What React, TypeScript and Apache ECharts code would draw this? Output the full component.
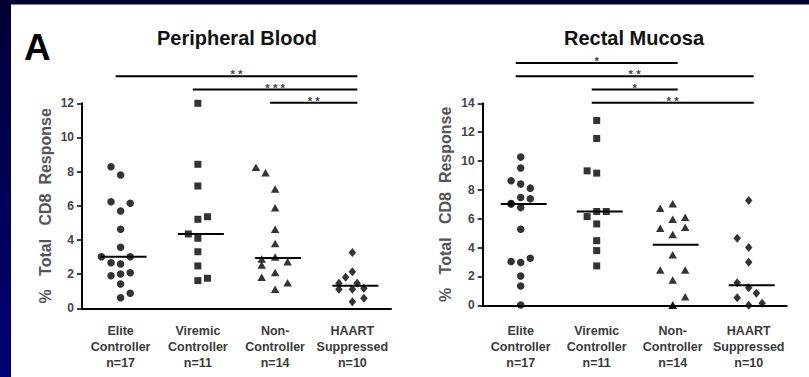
import React, { useEffect, useRef } from "react";
import * as echarts from "echarts";

// Group labels shared by both panels
const groupLabels = [
  "Elite\nController\nn=17",
  "Viremic\nController\nn=11",
  "Non-\nController\nn=14",
  "HAART\nSuppressed\nn=10",
];

// Peripheral blood: % of total CD8 response per subject
const bloodElite = [8.29, 7.8, 6.24, 6.15, 5.7, 4.63, 3.57, 3.02, 3.02, 2.67, 2.59, 1.91, 2.01, 2.08, 1.42, 0.88, 0.62];
const bloodViremic = [12.0, 8.43, 7.16, 5.21, 5.36, 4.35, 4.1, 3.31, 2.48, 1.62, 1.76];
const bloodNon = [8.25, 7.94, 6.99, 5.89, 4.63, 3.8, 3.0, 2.88, 2.54, 2.73, 2.09, 1.82, 1.5, 1.11];
const bloodHaart = [3.26, 2.14, 1.82, 1.46, 1.46, 1.11, 1.11, 1.17, 0.59, 0.39];

// Rectal mucosa: % of total CD8 response per subject
const mucosaElite = [10.27, 9.51, 8.63, 8.4, 8.12, 7.47, 7.38, 7.02, 7.06, 6.77, 5.27, 3.03, 2.96, 3.26, 2.03, 1.34, 0.02];
const mucosaViremic = [12.81, 11.56, 9.32, 9.16, 6.5, 6.5, 6.15, 5.64, 4.48, 3.79, 2.73];
const mucosaNon = [7.03, 6.73, 6.11, 5.97, 5.41, 5.34, 4.9, 3.5, 2.45, 2.45, 1.76, 0.6, 0, 0];
const mucosaHaart = [7.26, 4.65, 4.0, 2.98, 1.57, 1.22, 0.83, 0.53, 0, 0.14];

// Side-by-side lane of each dot within its column (dot-plot spread)
const bloodEliteLane = [-1, 0, -1, 1, 0, 0, 0, -2, 1, -1, 0, -1, 0, 1, 0, 1, 0];
const bloodViremicLane = [0, 0, 0, 0, 1, -1, 0, 0, 0, 0, 1];
const bloodNonLane = [-2, -1, 0, 0, 0, 0, 0, -1.4, -1.4, 1.3, 0, -1.4, 1.3, 0];
const bloodHaartLane = [0, 0, -0.7, -1.4, 0.5, -1.4, 0, 1.2, 1.2, 0];
const mucosaEliteLane = [0, 0, -1, 0, 1, 0, 1, -1, -1, 0, 0, -1, 0, 1, 0, 0, 0];
const mucosaViremicLane = [0, 0, -1, 0, 0, 1, -1, 0, 0, 0, 0];
const mucosaNonLane = [0, -1.3, 1.3, 0, 1.3, -1.3, 0, 0, -1.3, 1.3, 0, 1.3, 0, 0];
const mucosaHaartLane = [0, -1.2, 0, 0, -1.2, 0, 0.8, -1.2, 0, 1.4];

// Significance comparisons (group index from -> to, stacked bottom-up)
const bloodCompFrom = [2, 1, 0];
const bloodCompTo = [3, 3, 3];
const bloodCompStars = ["* *", "* * *", "* *"];
const mucosaCompFrom = [1, 1, 0, 0];
const mucosaCompTo = [3, 2, 3, 2];
const mucosaCompStars = ["* *", "*", "* *", "*"];

const FONT = "'Liberation Sans', Arial, Helvetica, sans-serif";
const LANE = 9.6;
const LEVEL_STEP = 13.3;

const SYMBOLS: { symbol: string; size: number | number[] }[] = [
  { symbol: "circle", size: 7.5 },
  { symbol: "rect", size: 7 },
  { symbol: "triangle", size: [8.5, 7.5] },
  { symbol: "diamond", size: [7.5, 9] },
];

function median(a: number[]) {
  const s = [...a].sort((x, y) => x - y);
  const n = s.length;
  return n % 2 ? s[(n - 1) / 2] : (s[n / 2 - 1] + s[n / 2]) / 2;
}

type Panel = {
  title: string;
  values: number[][];
  lanes: number[][];
  max: number;
  from: number[];
  to: number[];
  stars: string[];
  grid: { left: number; top: number; width: number; height: number };
  labelMargin: number;
  titleX: number;
};

const panels: Panel[] = [
  {
    title: "Peripheral Blood",
    values: [bloodElite, bloodViremic, bloodNon, bloodHaart],
    lanes: [bloodEliteLane, bloodViremicLane, bloodNonLane, bloodHaartLane],
    max: 12,
    from: bloodCompFrom,
    to: bloodCompTo,
    stars: bloodCompStars,
    grid: { left: 82, top: 103.3, width: 309, height: 205 },
    labelMargin: 15,
    titleX: 237,
  },
  {
    title: "Rectal Mucosa",
    values: [mucosaElite, mucosaViremic, mucosaNon, mucosaHaart],
    lanes: [mucosaEliteLane, mucosaViremicLane, mucosaNonLane, mucosaHaartLane],
    max: 14,
    from: mucosaCompFrom,
    to: mucosaCompTo,
    stars: mucosaCompStars,
    grid: { left: 482.7, top: 103.3, width: 304, height: 202 },
    labelMargin: 18,
    titleX: 634,
  },
];

function buildOption() {
  const grid: any[] = [];
  const xAxis: any[] = [];
  const yAxis: any[] = [];
  const series: any[] = [];
  const graphic: any[] = [
    // navy frame along the top and left edges
    { type: "rect", shape: { x: 0, y: 0, width: 809, height: 4.5 }, style: { fill: "#000036" }, z: 10 },
    {
      type: "rect",
      shape: { x: 0, y: 0, width: 11, height: 377 },
      style: {
        fill: new echarts.graphic.LinearGradient(0, 0, 0, 1, [
          { offset: 0, color: "#000036" },
          { offset: 1, color: "#000075" },
        ]),
      },
      z: 10,
    },
    {
      type: "text",
      x: 24,
      y: 47,
      style: { text: "A", font: `bold 37px ${FONT}`, fill: "#000", textVerticalAlign: "middle" },
    },
  ];

  panels.forEach((p, pi) => {
    grid.push({ ...p.grid, containLabel: false });
    graphic.push({
      type: "text",
      x: p.titleX,
      y: 38,
      style: {
        text: p.title,
        font: `bold 20px ${FONT}`,
        fill: "#111",
        textAlign: "center",
        textVerticalAlign: "middle",
      },
    });
    xAxis.push({
      gridIndex: pi,
      type: "category",
      data: groupLabels,
      axisLine: { lineStyle: { color: "#000", width: 2 } },
      axisTick: { alignWithLabel: true, length: 4, lineStyle: { color: "#000", width: 1.5 } },
      axisLabel: {
        interval: 0,
        fontSize: 12.5,
        fontWeight: "bold",
        fontFamily: FONT,
        color: "#3a3a3a",
        lineHeight: 16,
        margin: p.labelMargin,
      },
      splitLine: { show: false },
    });
    yAxis.push({
      gridIndex: pi,
      type: "value",
      min: 0,
      max: p.max,
      interval: 2,
      axisLine: { show: true, lineStyle: { color: "#000", width: 2 } },
      axisTick: { show: true, length: 5, lineStyle: { color: "#000", width: 1.5 } },
      axisLabel: { fontSize: 12, fontWeight: "bold", fontFamily: FONT, color: "#444", margin: 8 },
      splitLine: { show: false },
      name: "%   Total   CD8  Response",
      nameLocation: "middle",
      nameRotate: 90,
      nameGap: 29,
      nameTextStyle: { fontSize: 16, fontWeight: "bold", fontFamily: FONT, color: "#555" },
    });

    // one scatter series per group
    p.values.forEach((vals, gi) => {
      series.push({
        type: "scatter",
        xAxisIndex: pi,
        yAxisIndex: pi,
        symbol: SYMBOLS[gi].symbol,
        symbolSize: SYMBOLS[gi].size,
        itemStyle: { color: "#000" },
        clip: false,
        data: vals.map((v, i) => ({ value: [gi, v], symbolOffset: [p.lanes[gi][i] * LANE, 0] })),
      });
    });

    // median bars
    series.push({
      type: "custom",
      xAxisIndex: pi,
      yAxisIndex: pi,
      data: p.values.map((vals, gi) => [gi, median(vals)]),
      renderItem: (_params: any, api: any) => {
        const c = api.coord([api.value(0), api.value(1)]);
        return {
          type: "line",
          shape: { x1: c[0] - 20, y1: c[1], x2: c[0] + 26, y2: c[1] },
          style: { stroke: "#000", lineWidth: 2 },
        };
      },
    });

    // significance brackets above the plot
    series.push({
      type: "custom",
      xAxisIndex: pi,
      yAxisIndex: pi,
      data: p.from.map((f, i) => [f, p.to[i], i]),
      renderItem: (params: any, api: any) => {
        const a = api.coord([api.value(0), p.max]);
        const b = api.coord([api.value(1), p.max]);
        const y = a[1] - 0.5 - api.value(2) * LEVEL_STEP;
        const x1 = a[0] - 5;
        const x2 = b[0] + 5;
        return {
          type: "group",
          children: [
            { type: "line", shape: { x1, y1: y, x2, y2: y }, style: { stroke: "#000", lineWidth: 2 } },
            {
              type: "text",
              x: (x1 + x2) / 2,
              y: y - 2,
              style: {
                text: p.stars[params.dataIndex],
                font: `bold 11.5px ${FONT}`,
                fill: "#444",
                textAlign: "center",
                textVerticalAlign: "middle",
              },
            },
          ],
        };
      },
    });
  });

  return {
    animation: false,
    backgroundColor: "#ffffff",
    grid,
    xAxis,
    yAxis,
    series,
    graphic,
  };
}

export default function App() {
  const ref = useRef<HTMLDivElement>(null);
  useEffect(() => {
    if (!ref.current) return;
    const chart = echarts.init(ref.current, undefined, { renderer: "svg" });
    chart.setOption(buildOption() as any);
    return () => chart.dispose();
  }, []);
  return (
    <div
      ref={ref}
      style={{ position: "fixed", left: 0, top: 0, width: 809, height: 377 }}
    />
  );
}
